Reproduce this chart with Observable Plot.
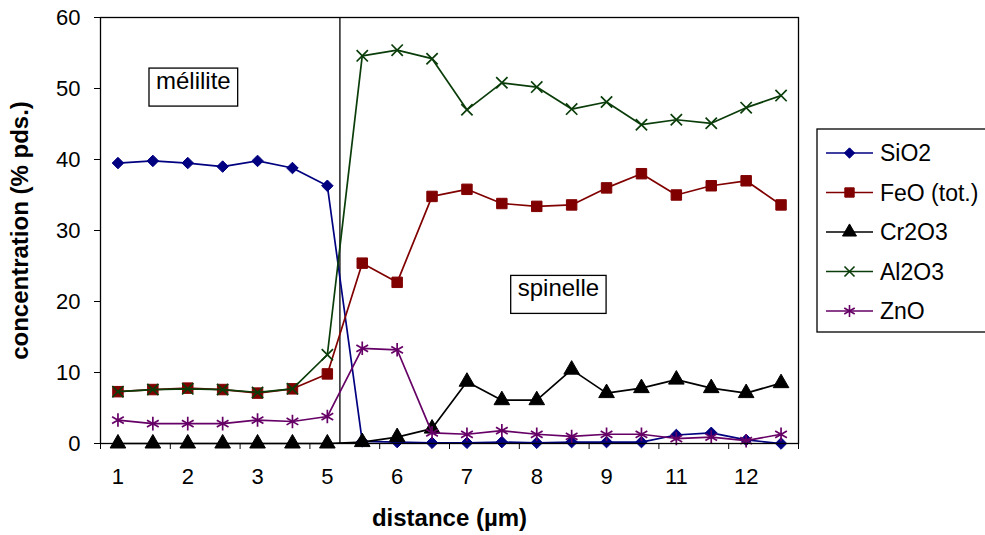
<!DOCTYPE html>
<html>
<head>
<meta charset="utf-8">
<script src="https://cdn.jsdelivr.net/npm/d3@7"></script>
<script src="https://cdn.jsdelivr.net/npm/@observablehq/plot@0.6"></script>
<style>
  html, body { margin: 0; padding: 0; background: white; }
  #chart { width: 985px; height: 535px; overflow: hidden; }
</style>
</head>
<body>
<div id="chart"></div>
<script>
// ---- data ----
const categories = [1,2,3,4,5,6,7,8,9,10,11,12,13,14,15,16,17,18,19,20];
const tickLabelCats = [1,3,5,7,9,11,13,15,17,19];
const tickLabels = ["1","2","3","5","6","7","8","9","11","12"];
const tickMarkCats = [0.5,2.5,4.5,6.5,8.5,10.5,12.5,14.5,16.5,18.5,20.5];
const yTicks = [0,10,20,30,40,50,60];

const seriesNames = ["SiO2","FeO (tot.)","Cr2O3","Al2O3","ZnO"];
const SiO2  = [39.5,39.8,39.5,39.0,39.8,38.8,36.3,0.3,0.2,0.1,0.1,0.2,0.1,0.2,0.2,0.2,1.2,1.5,0.5,0.0];
const FeO   = [7.3,7.6,7.8,7.6,7.1,7.7,9.8,25.4,22.7,34.8,35.8,33.8,33.4,33.6,36.0,38.0,35.0,36.3,37.0,33.6];
const Cr2O3 = [0,0,0,0,0,0,0,0.2,0.9,2.1,8.7,6.1,6.1,10.4,7.1,7.8,9.0,7.8,7.1,8.5];
const Al2O3 = [7.3,7.6,7.7,7.6,7.2,7.7,12.5,54.6,55.4,54.2,47.0,50.8,50.2,47.1,48.1,44.9,45.6,45.1,47.3,49.0];
const ZnO   = [3.3,2.8,2.8,2.8,3.3,3.1,3.8,13.4,13.2,1.5,1.3,1.8,1.3,1.0,1.3,1.3,0.7,0.9,0.4,1.3];

const seriesColors  = ["#000080","#800000","#000000","#0a3d0a","#660066"];
const seriesSymbols = ["diamond2","square","triangle","times","asterisk"];
const seriesR       = [5.2,5.9,5.8,5.2,6.4];

const boundaryCat = 7.36;          // vertical separation line
const annotLabels = ["mélilite","spinelle"];
const annotX = [3.16,13.62];
const annotY = [51.0,21.8];

const xTitle = "distance (µm)";
const yTitle = "concentration (% pds.)";

// ---- build table ----
const values = [SiO2, FeO, Cr2O3, Al2O3, ZnO];
const rows = [];
seriesNames.forEach((s, k) => values[k].forEach((v, i) => rows.push({series: s, k, cat: categories[i], value: v})));
const annots = annotLabels.map((t, i) => ({text: t, x: annotX[i], y: annotY[i]}));
const labelMap = new Map(tickLabelCats.map((c, i) => [c, tickLabels[i]]));

const FONT = "'Liberation Sans', Arial, sans-serif";
const isFilled = s => s === "square" || s === "triangle" || s === "diamond2";

const seriesMarks = [];
seriesNames.forEach((s, k) => {
  const d = rows.filter(r => r.series === s);
  seriesMarks.push(Plot.line(d, {x: "cat", y: "value", stroke: seriesColors[k], strokeWidth: 1.7}));
  const filled = isFilled(seriesSymbols[k]);
  seriesMarks.push(Plot.dot(d, {x: "cat", y: "value", symbol: () => seriesSymbols[k], r: seriesR[k],
    fill: filled ? seriesColors[k] : "none", stroke: seriesColors[k], strokeWidth: filled ? 1 : 1.7}));
});

const plot = Plot.plot({
  width: 985, height: 535,
  marginLeft: 100, marginRight: 187, marginTop: 17, marginBottom: 92,
  style: {fontFamily: FONT, fontSize: "22px", color: "black", background: "white", overflow: "visible"},
  x: {domain: [0.5, 20.5]},
  y: {domain: [0, 60]},
  symbol: {type: "identity"},
  marks: [
    Plot.axisY({ticks: yTicks, tickSize: 6, tickPadding: 14, label: null, fontSize: 22}),
    Plot.axisX({ticks: tickMarkCats, tickSize: 6, tickFormat: () => "", label: null}),
    Plot.axisX({ticks: tickLabelCats, tickSize: 0, tickPadding: 25, tickFormat: d => labelMap.get(d), label: null, fontSize: 22}),
    Plot.ruleX([boundaryCat], {y1: 0, y2: 60, stroke: "black", strokeWidth: 1.3}),
    ...seriesMarks,
    Plot.frame({stroke: "black", strokeWidth: 1.3}),
    Plot.text(annots, {x: "x", y: "y", text: "text", fontSize: 24, className: "annot", fill: "black"}),
    Plot.text([yTitle], {frameAnchor: "left", dx: -80, rotate: -90, textAnchor: "middle", fontWeight: "bold", fontSize: 24, fill: "black"}),
    Plot.text([xTitle], {frameAnchor: "bottom", dy: 82, textAnchor: "middle", fontWeight: "bold", fontSize: 24, fill: "black"})
  ]
});
document.getElementById("chart").appendChild(plot);

// boxes around annotations
const svg = d3.select(plot);
svg.selectAll("g.annot text").each(function() {
  const b = this.getBBox();
  d3.select(this.parentNode).insert("rect", "text")
    .attr("transform", this.getAttribute("transform"))
    .attr("x", b.x - 7).attr("y", b.y + 1).attr("width", b.width + 14).attr("height", b.height + 11)
    .attr("fill", "white").attr("stroke", "black").attr("stroke-width", 1.3);
});

// legend
const lg = svg.append("g").attr("font-family", FONT).attr("font-size", 23).attr("text-anchor", "start");
lg.append("rect").attr("x", 817).attr("y", 129).attr("width", 200).attr("height", 203)
  .attr("fill", "white").attr("stroke", "black").attr("stroke-width", 1.3);
const d3sym = {diamond2: d3.symbolDiamond2, square: d3.symbolSquare, triangle: d3.symbolTriangle, times: d3.symbolTimes, asterisk: d3.symbolAsterisk};
seriesNames.forEach((s, k) => {
  const y = 153 + k * 39.5;
  lg.append("line").attr("x1", 826).attr("x2", 873).attr("y1", y).attr("y2", y)
    .attr("stroke", seriesColors[k]).attr("stroke-width", 1.7);
  const filled = isFilled(seriesSymbols[k]);
  lg.append("path").attr("transform", `translate(849.5,${y})`)
    .attr("d", d3.symbol(d3sym[seriesSymbols[k]], Math.PI * seriesR[k] * seriesR[k] * 0.8)())
    .attr("fill", filled ? seriesColors[k] : "none").attr("stroke", seriesColors[k]).attr("stroke-width", filled ? 1 : 1.6);
  lg.append("text").attr("x", 880).attr("y", y).attr("dy", "0.35em").attr("fill", "black").text(s);
});
</script>
</body>
</html>
